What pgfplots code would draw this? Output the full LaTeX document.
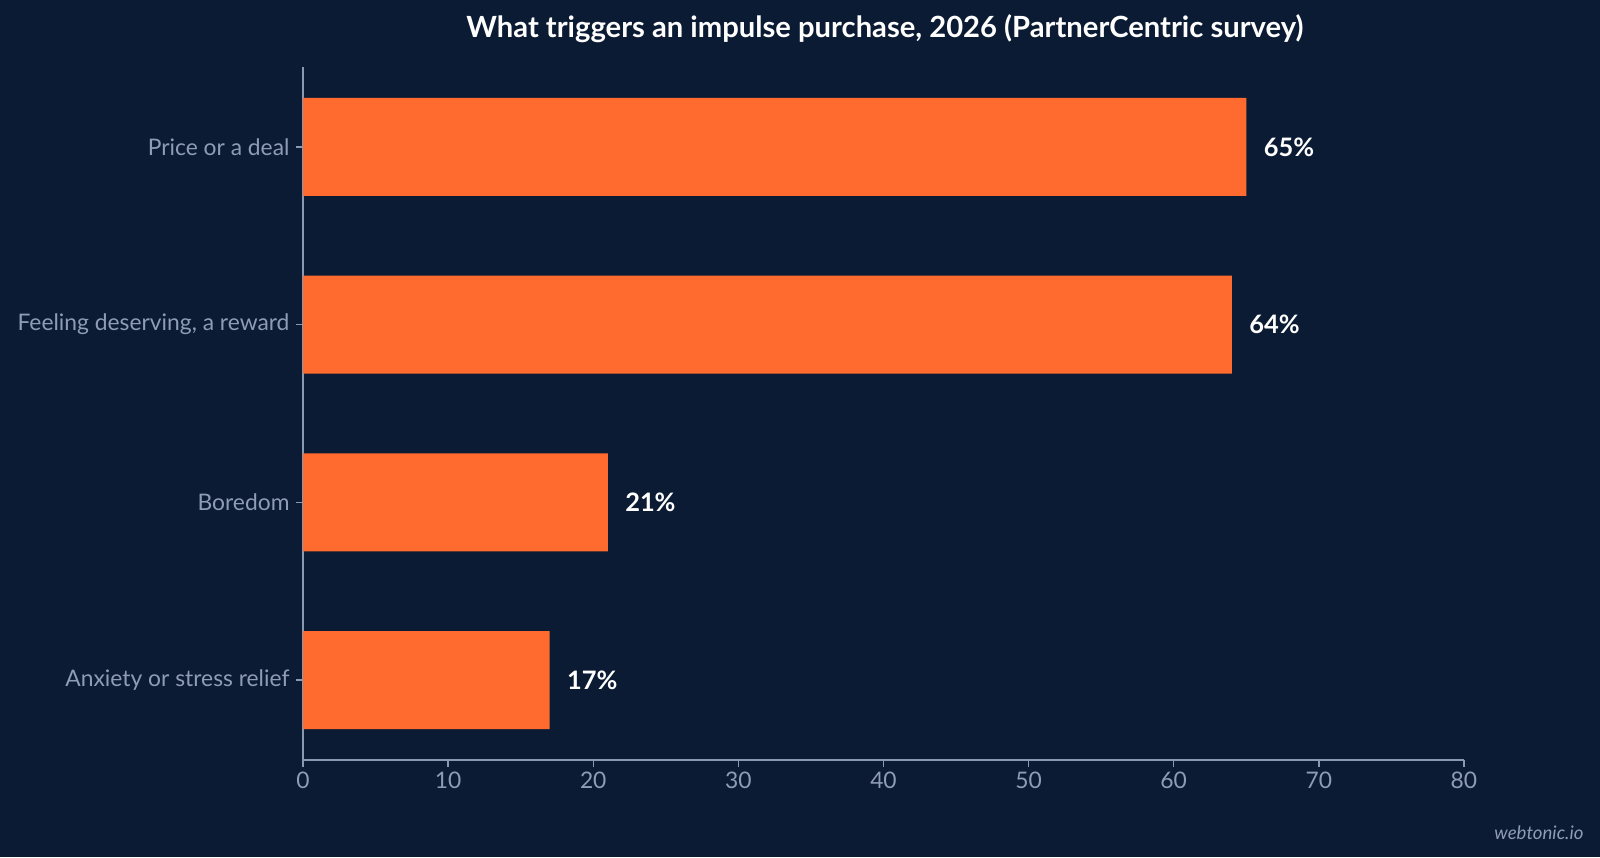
\documentclass[border=0pt]{standalone}
\usepackage{fontspec}
\setmainfont{Lato}
\usepackage{pgfplots}
\pgfplotsset{compat=1.18}
\definecolor{bg}{HTML}{0B1B33}
\definecolor{bar}{HTML}{FF6B2F}
\definecolor{axisc}{HTML}{8A99B2}
\definecolor{tickc}{HTML}{8E9DB5}
\begin{document}
\begin{tikzpicture}[x=1bp,y=1bp]
\useasboundingbox (0,0) rectangle (1600,857);
\fill[bg] (0,0) rectangle (1600,857);
\node[font=\fontsize{29.3}{33}\selectfont\bfseries, text=white] at (885,828) {What triggers an impulse purchase, 2026 (PartnerCentric survey)};
\node[font=\fontsize{18.7}{22}\selectfont\itshape, text=tickc, anchor=east] at (1587,24) {webtonic.io};
\begin{axis}[
    at={(303bp,97bp)}, anchor=south west,
    scale only axis, width=1161bp, height=693bp,
    xbar, bar width=98bp,
    xmin=0, xmax=80,
    ymin=-0.45, ymax=3.45,
    xtick={0,10,...,80},
    ytick={0,1,2,3},
    yticklabels={Anxiety or stress relief, Boredom, {Feeling deserving, a reward}, Price or a deal},
    axis x line*=bottom, axis y line*=left,
    axis line style={axisc, line width=1.4bp},
    tick style={axisc, line width=1.4bp},
    tick align=outside,
    major tick length=7bp,
    ticklabel style={font=\fontsize{22.9}{26}\selectfont, text=tickc},
    /pgf/number format/assume math mode=true,
    xticklabel style={yshift=-1bp},
    yticklabel style={xshift=-3bp},
    nodes near coords={\pgfmathprintnumber{\pgfplotspointmeta}\%},
    nodes near coords align=horizontal,
    every node near coord/.append style={font=\fontsize{25.5}{29}\selectfont\bfseries, text=white, xshift=14bp},
    point meta=x,
    clip=false,
]
\addplot[fill=bar, draw=none] coordinates {(17,0) (21,1) (64,2) (65,3)};
\end{axis}
\end{tikzpicture}
\end{document}
